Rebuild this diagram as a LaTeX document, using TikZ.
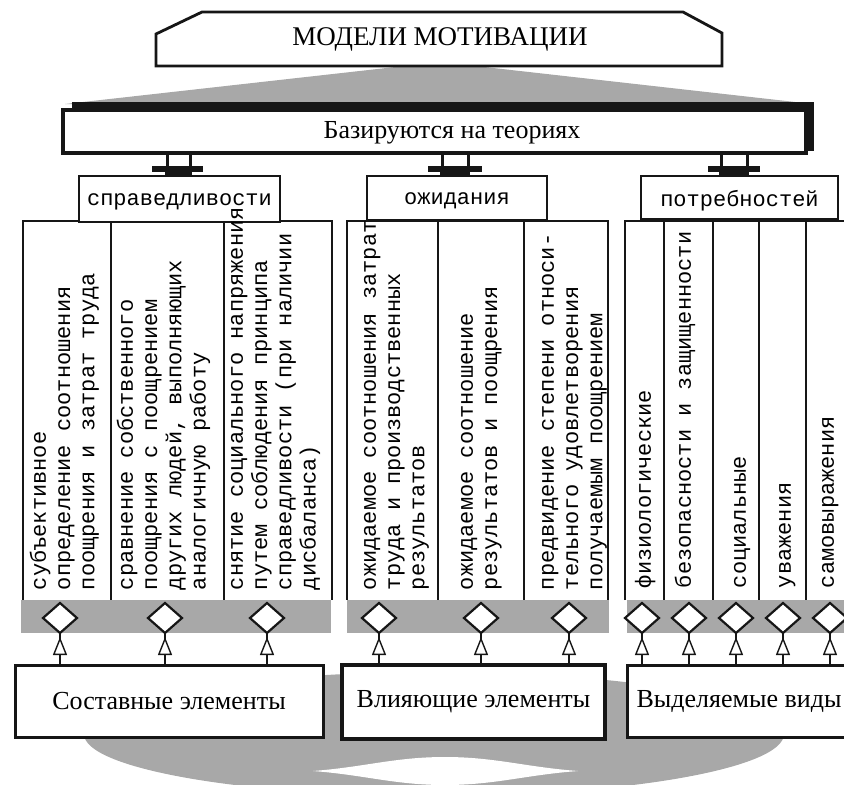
\documentclass[tikz,border=0pt]{standalone}
\usepackage{fontspec}
\setmainfont{Liberation Serif}
\newfontfamily\monof{Liberation Mono}
\usetikzlibrary{shapes.geometric,arrows.meta,decorations.markings,calc}
\definecolor{bandgray}{RGB}{168,168,168}
\definecolor{ink}{RGB}{22,22,22}
\newcommand\mystrut{\rule{0pt}{17pt}}
\begin{document}
\begin{tikzpicture}[x=1pt,y=-1pt,
  every node/.style={inner sep=0pt, outer sep=0pt},
  coltext/.style={rotate=90, anchor=north west, align=left, font=\monof\fontsize{22}{24.3}\selectfont},
  cattext/.style={font=\monof\fontsize{22}{24}\selectfont},
  boxtext/.style={font=\fontsize{26}{28}\selectfont},
  catbox/.style={draw=ink, fill=white, line width=2.2pt},
  botbox/.style={draw=ink, fill=white, line width=3pt, boxtext},
  colline/.style={draw=ink, line width=1.4pt},
  colthick/.style={draw=ink, line width=2.8pt},
  tline/.style={draw=ink, line width=3pt},
  dia/.style={shape=diamond, draw=ink, fill=white, line width=2.2pt, minimum width=34pt, minimum height=30pt},
  link/.style={draw=ink, line width=1.6pt, postaction={decorate},
    decoration={markings, mark=at position 28pt with {\arrow{Triangle[fill=white, length=18pt, width=14pt, line width=1.4pt]}}}},
]
\useasboundingbox (0,0) rectangle (844,785);
\clip (0,0) rectangle (844,785);

% top grey fan
\fill[bandgray] (65,104) -- (440,62) -- (813,104) -- cycle;

% title
\draw[ink, line width=2.8pt, fill=white] (156,66) -- (156,34) -- (202,12) -- (683,12) -- (722,33) -- (722,66) -- cycle;
\node[font=\fontsize{27}{30}\selectfont] (title) at (440,39) {МОДЕЛИ МОТИВАЦИИ};

% base box with shadow
\fill[ink] (72,102) rectangle (814,151);
\node[draw=ink, fill=white, line width=3.2pt, minimum width=743pt, minimum height=43pt] (base) at (434.5,131.5) {};
\node[boxtext] (basetxt) at (452,132.5) {Базируются на теориях};

% T connectors
\coordinate (t1l) at (167,167); \coordinate (t1r) at (190,167);
\coordinate (t2l) at (442,167); \coordinate (t2r) at (468,167);
\coordinate (t3l) at (721,167); \coordinate (t3r) at (747,167);
\foreach \t in {t1l,t1r,t2l,t2r,t3l,t3r} { \draw[tline] (base.south -| \t) -- (\t); }
\fill[ink] (152,166) rectangle (203,172); \fill[ink] (165,171) rectangle (192,177);
\fill[ink] (428,166) rectangle (482,172); \fill[ink] (440,171) rectangle (470,177);
\fill[ink] (708,166) rectangle (760,172); \fill[ink] (719,171) rectangle (749,177);

% bottom grey shape
\fill[bandgray] (434,734) ellipse [x radius=350pt, y radius=62pt];
\fill[white] (313,771) .. controls (365,767) and (395,757) .. (445,757)
  .. controls (495,757) and (525,767) .. (578,771)
  .. controls (525,775) and (495,785) .. (445,785)
  .. controls (395,785) and (365,775) .. (313,771) -- cycle;

% column containers
\draw[colline] (23,600) -- (23,221) -- (332,221) -- (332,600);
\draw[colline] (111,221) -- (111,603);
\draw[colline] (224,221) -- (224,600);

\draw[colline] (347,221) -- (608,221) -- (608,600);
\draw[colthick] (347,220) -- (347,600);
\draw[colline] (438,221) -- (438,600);
\draw[colthick] (524,221) -- (524,600);

\draw[colline] (625,600) -- (625,221) -- (860,221);
\draw[colthick] (664,221) -- (664,600);
\draw[colline] (713,221) -- (713,600);
\draw[colthick] (759,221) -- (759,600);
\draw[colthick] (806,221) -- (806,600);

% grey bands
\fill[bandgray] (21,600) rectangle (331,633);
\fill[bandgray] (347,600) rectangle (609,633);
\fill[bandgray] (627,600) rectangle (850,633);

% category boxes
\node[catbox, minimum width=201pt, minimum height=46pt] (cat1) at (179.5,199) {};
\node[cattext] (cat1t) at (179.5,202) {справедливости};
\node[catbox, minimum width=180pt, minimum height=44pt] (cat2) at (457,198) {};
\node[cattext] (cat2t) at (457,201) {ожидания};
\node[catbox, minimum width=197pt, minimum height=43pt] (cat3) at (739.5,197.5) {};
\node[cattext] (cat3t) at (739.5,201) {потребностей};

% column texts
\node[coltext] (c1) at (28.8,590) {\mystrut субъективное\\определение соотношения\\поощрения и затрат труда};
\node[coltext] (c2) at (115.8,590) {\mystrut сравнение собственного\\поощрения с поощрением\\других людей, выполняющих\\аналогичную работу};
\node[coltext] (c3) at (225.8,590) {\mystrut снятие социального напряжения\\путем соблюдения принципа\\справедливости (при наличии\\дисбаланса)};
\node[coltext] (c4) at (358.8,590) {\mystrut ожидаемое соотношения затрат\\труда и производственных\\результатов};
\node[coltext] (c5) at (455.8,590) {\mystrut ожидаемое соотношение\\результатов и поощрения};
\node[coltext] (c6) at (536.8,590) {\mystrut предвидение степени относи-\\тельного удовлетворения\\получаемым поощрением};
\node[coltext] (c7) at (633.8,588) {\mystrut физиологические};
\node[coltext] (c8) at (673.8,588) {\mystrut безопасности и защищенности};
\node[coltext] (c9) at (728.8,588) {\mystrut социальные};
\node[coltext] (c10) at (773.8,588) {\mystrut уважения};
\node[coltext] (c11) at (816.8,588) {\mystrut самовыражения};

% diamonds
\node[dia] (d1) at (60,618) {};
\node[dia] (d2) at (165,618) {};
\node[dia] (d3) at (267,618) {};
\node[dia] (d4) at (379,618) {};
\node[dia] (d5) at (481,618) {};
\node[dia] (d6) at (569,618) {};
\node[dia] (d7) at (642,618) {};
\node[dia] (d8) at (689,618) {};
\node[dia] (d9) at (736,618) {};
\node[dia] (d10) at (783,618) {};
\node[dia] (d11) at (830,618) {};

% bottom boxes
\node[botbox, minimum width=308pt, minimum height=72pt] (bx1) at (169,701) {Составные элементы};
\node[botbox, line width=3.6pt, minimum width=263pt, minimum height=74pt] (bx2) at (473.5,702) {Влияющие элементы};
\node[botbox, minimum width=224pt, minimum height=72pt] (bx3) at (739,701) {Выделяемые виды};

% links
\foreach \d in {d1,d2,d3} { \draw[link] (\d.south |- bx1.north) -- (\d.south); }
\foreach \d in {d4,d5,d6} { \draw[link] (\d.south |- bx2.north) -- (\d.south); }
\foreach \d in {d7,d8,d9,d10,d11} { \draw[link] (\d.south |- bx3.north) -- (\d.south); }
\end{tikzpicture}
\end{document}
